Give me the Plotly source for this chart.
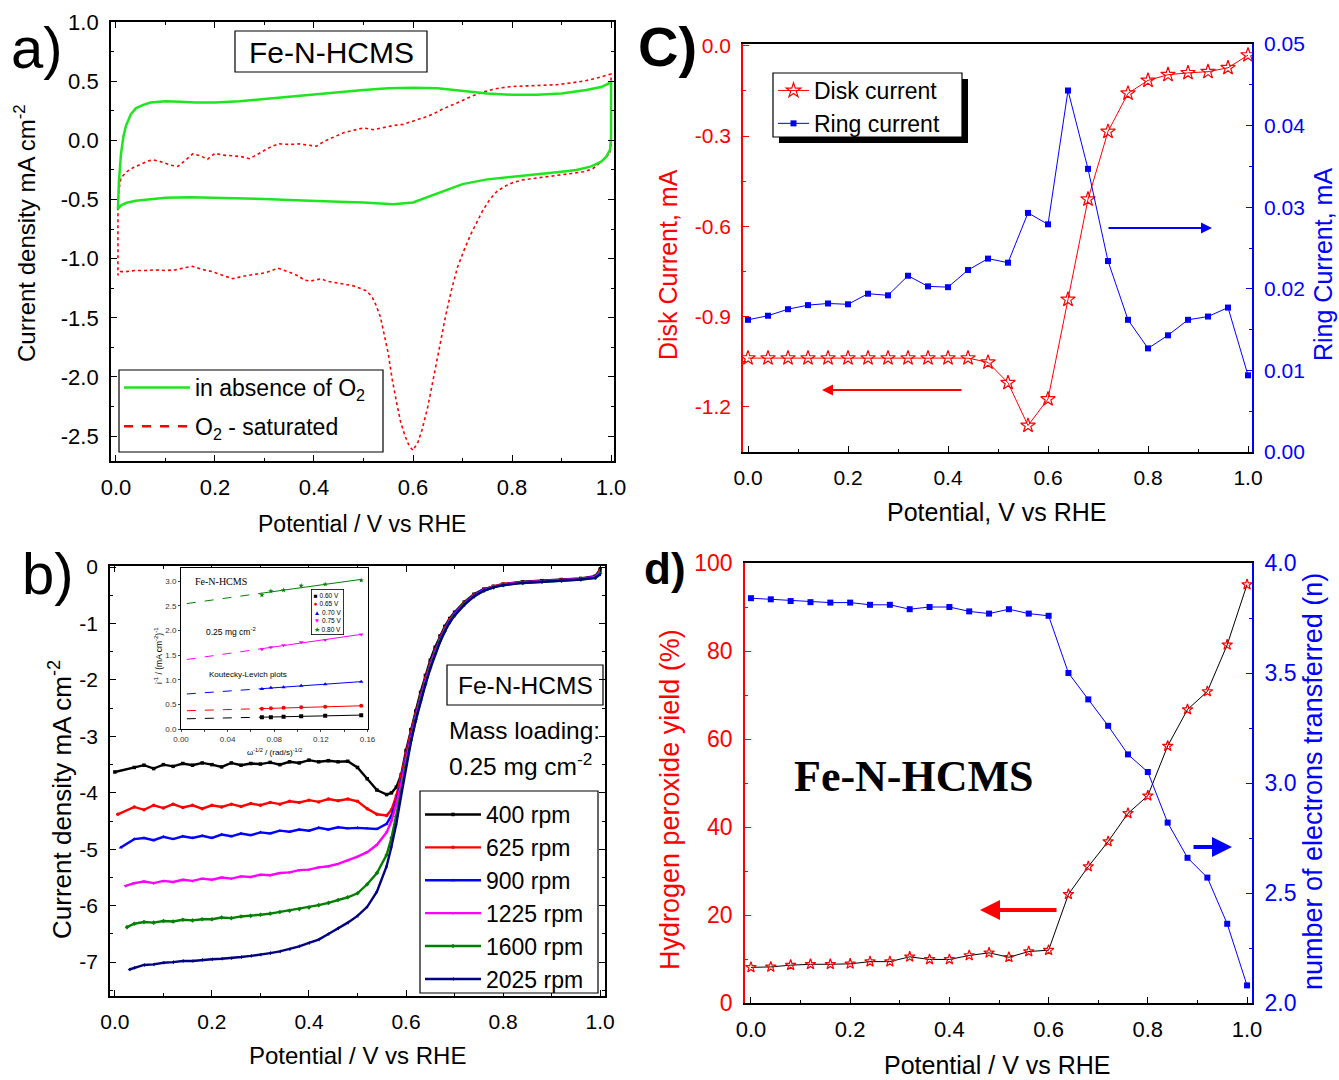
import numpy as np
import plotly.graph_objects as go

# ======================= DATA =======================
# (a) cyclic voltammograms, potential (V vs RHE) / current density (mA cm-2)
cv_n2_E = [0.004, 0.006, 0.01, 0.015, 0.02, 0.03, 0.04, 0.055, 0.07, 0.085, 0.1, 0.13, 0.16, 0.2, 0.25,
           0.3, 0.35, 0.4, 0.45, 0.5, 0.55, 0.6, 0.65, 0.7, 0.75, 0.8, 0.85, 0.9, 0.95, 0.98, 1.0,
           1.0, 0.998, 0.99, 0.98, 0.96, 0.93, 0.9, 0.85, 0.8, 0.75, 0.7, 0.65, 0.6, 0.56, 0.5, 0.45,
           0.4, 0.35, 0.3, 0.25, 0.2, 0.15, 0.1, 0.07, 0.04, 0.02, 0.01, 0.004]
cv_n2_j = [-0.58, -0.35, -0.12, 0.03, 0.12, 0.22, 0.27, 0.30, 0.32, 0.325, 0.33, 0.325, 0.32, 0.32, 0.33,
           0.35, 0.37, 0.385, 0.405, 0.425, 0.44, 0.445, 0.44, 0.42, 0.395, 0.385, 0.385, 0.395, 0.425, 0.45, 0.49,
           0.02, -0.08, -0.14, -0.18, -0.22, -0.25, -0.265, -0.285, -0.305, -0.33, -0.37, -0.45, -0.525, -0.54, -0.525, -0.52,
           -0.515, -0.505, -0.495, -0.49, -0.485, -0.48, -0.485, -0.495, -0.51, -0.53, -0.55, -0.58]

cv_o2_E = [0.004, 0.006, 0.01, 0.02, 0.035, 0.05, 0.065, 0.075, 0.09, 0.11,
           0.125, 0.14, 0.155, 0.17, 0.185, 0.2, 0.215, 0.235, 0.255, 0.27,
           0.285, 0.3, 0.315, 0.33, 0.35, 0.37, 0.39, 0.405, 0.42, 0.44,
           0.46, 0.48, 0.5, 0.52, 0.54, 0.56, 0.58, 0.6, 0.62, 0.64,
           0.66, 0.68, 0.7, 0.72, 0.74, 0.76, 0.78, 0.8, 0.83, 0.86,
           0.89, 0.92, 0.95, 0.97, 0.99, 1.0,
           1.0, 0.998, 0.993, 0.986, 0.975, 0.963, 0.945, 0.92, 0.9, 0.88,
           0.86, 0.84, 0.82, 0.8, 0.785, 0.77, 0.755, 0.74, 0.728, 0.716,
           0.703, 0.69, 0.678, 0.666, 0.654, 0.642, 0.63, 0.618, 0.61, 0.6,
           0.592, 0.584, 0.575, 0.567, 0.558, 0.55, 0.542, 0.534, 0.525, 0.517,
           0.505, 0.492, 0.48, 0.467, 0.45, 0.435, 0.426, 0.415, 0.405, 0.392,
           0.38, 0.37, 0.36, 0.345, 0.327, 0.315, 0.302, 0.285, 0.27, 0.255,
           0.236, 0.222, 0.211, 0.195, 0.178, 0.165, 0.154, 0.14, 0.12, 0.1,
           0.079, 0.06, 0.038, 0.02, 0.009, 0.004, 0.004]
cv_o2_j = [-0.55, -0.42, -0.32, -0.27, -0.23, -0.2, -0.175, -0.165, -0.18, -0.21,
           -0.22, -0.17, -0.115, -0.13, -0.16, -0.11, -0.125, -0.13, -0.14, -0.155,
           -0.12, -0.09, -0.05, -0.03, -0.035, -0.03, -0.04, -0.05, -0.01, 0.03,
           0.065, 0.085, 0.105, 0.09, 0.11, 0.125, 0.135, 0.16, 0.19, 0.22,
           0.265, 0.3, 0.34, 0.375, 0.405, 0.43, 0.445, 0.455, 0.46, 0.465,
           0.47, 0.485, 0.505, 0.525, 0.545, 0.56,
           -0.05, -0.1, -0.13, -0.16, -0.2, -0.24, -0.265, -0.28, -0.29, -0.3,
           -0.31, -0.32, -0.335, -0.36, -0.39, -0.43, -0.5, -0.6, -0.7, -0.8,
           -0.93, -1.07, -1.26, -1.48, -1.74, -2.0, -2.25, -2.45, -2.55, -2.62,
           -2.58, -2.5, -2.38, -2.22, -2.02, -1.8, -1.63, -1.49, -1.39, -1.32,
           -1.27, -1.25, -1.23, -1.22, -1.21, -1.2, -1.19, -1.17, -1.18, -1.19,
           -1.18, -1.15, -1.13, -1.11, -1.08, -1.1, -1.12, -1.13, -1.14, -1.15,
           -1.17, -1.15, -1.13, -1.11, -1.095, -1.08, -1.065, -1.075, -1.095, -1.1,
           -1.095, -1.1, -1.1, -1.11, -1.11, -1.14, -0.56]
cv_labels = ["in absence of O<sub>2</sub>", "O<sub>2</sub> - saturated"]
a_yticks = [-2.5, -2.0, -1.5, -1.0, -0.5, 0.0, 0.5, 1.0]
a_yticktext = ["-2.5", "-2.0", "-1.5", "-1.0", "-0.5", "0.0", "0.5", "1.0"]

# (b) LSV curves at different rotation rates
lsv_labels = ["400 rpm", "625 rpm", "900 rpm", "1225 rpm", "1600 rpm", "2025 rpm"]
lsv_start_E = [0.0, 0.006, 0.012, 0.022, 0.025, 0.03]
lsv_E = [0.04, 0.06, 0.08, 0.10, 0.12, 0.14, 0.16, 0.18, 0.20, 0.22, 0.24, 0.26, 0.28, 0.30, 0.32,
         0.34, 0.36, 0.38, 0.40, 0.42, 0.44, 0.46, 0.48, 0.50, 0.52, 0.54, 0.56,
         0.57, 0.58, 0.59, 0.60, 0.61, 0.62, 0.63, 0.64, 0.65, 0.66, 0.67, 0.68, 0.69, 0.70,
         0.72, 0.74, 0.76, 0.78, 0.80, 0.84, 0.88, 0.92, 0.96, 0.99, 1.00]
lsv_400 = [-3.63,
           -3.55, -3.51, -3.57, -3.50, -3.53, -3.48, -3.51, -3.47, -3.50, -3.54, -3.47, -3.51, -3.48, -3.49,
           -3.46, -3.50, -3.45, -3.47, -3.42, -3.45, -3.43, -3.45, -3.44,
           -3.55, -3.75, -3.95, -4.03,
           -4.00, -3.90, -3.68, -3.25, -2.88, -2.55, -2.22, -1.92, -1.65, -1.42, -1.22, -1.05, -0.91, -0.80,
           -0.62, -0.48, -0.39, -0.34, -0.30, -0.26, -0.24, -0.22, -0.20, -0.16, -0.04]
lsv_625 = [-4.38,
           -4.25, -4.30, -4.22, -4.27, -4.20, -4.26, -4.22, -4.28, -4.22, -4.25, -4.20, -4.24, -4.19, -4.22,
           -4.17, -4.20, -4.15, -4.17, -4.13, -4.16, -4.11, -4.14, -4.11,
           -4.15, -4.28, -4.38, -4.40,
           -4.30, -4.05, -3.70, -3.30, -2.93, -2.60, -2.27, -1.97, -1.70, -1.46, -1.25, -1.08, -0.93, -0.82,
           -0.63, -0.49, -0.40, -0.34, -0.30, -0.27, -0.25, -0.23, -0.21, -0.17, -0.06]
lsv_900 = [-4.97,
           -4.82, -4.80, -4.84, -4.78, -4.82, -4.77, -4.80, -4.76, -4.80, -4.74, -4.77, -4.72, -4.75, -4.70,
           -4.72, -4.67, -4.69, -4.65, -4.67, -4.62, -4.65, -4.61, -4.63,
           -4.62, -4.63, -4.64, -4.55,
           -4.40, -4.15, -3.80, -3.38, -2.98, -2.64, -2.30, -2.00, -1.73, -1.48, -1.27, -1.10, -0.95, -0.83,
           -0.64, -0.50, -0.40, -0.35, -0.31, -0.27, -0.25, -0.23, -0.21, -0.17, -0.08]
lsv_1225 = [-5.65,
            -5.60, -5.57, -5.60, -5.56, -5.58, -5.54, -5.56, -5.52, -5.54, -5.50, -5.52, -5.48, -5.49, -5.45,
            -5.46, -5.42, -5.41, -5.37, -5.36, -5.32, -5.30, -5.26, -5.20,
            -5.13, -5.05, -4.92, -4.70,
            -4.50, -4.20, -3.85, -3.42, -3.02, -2.67, -2.33, -2.03, -1.75, -1.50, -1.29, -1.11, -0.96, -0.84,
            -0.65, -0.51, -0.41, -0.35, -0.31, -0.27, -0.25, -0.23, -0.21, -0.18, -0.09]
lsv_1600 = [-6.38,
            -6.32, -6.29, -6.30, -6.27, -6.28, -6.25, -6.26, -6.24, -6.24, -6.21, -6.22, -6.19, -6.18, -6.16,
            -6.14, -6.11, -6.09, -6.06, -6.03, -5.99, -5.95, -5.90, -5.85,
            -5.78, -5.62, -5.42, -5.10,
            -4.80, -4.42, -3.98, -3.50, -3.07, -2.70, -2.36, -2.06, -1.78, -1.53, -1.31, -1.13, -0.97, -0.85,
            -0.66, -0.52, -0.42, -0.36, -0.32, -0.28, -0.26, -0.24, -0.22, -0.19, -0.11]
lsv_2025 = [-7.13,
            -7.10, -7.05, -7.04, -7.01, -7.00, -6.98, -6.98, -6.96, -6.95, -6.94, -6.93, -6.91, -6.89, -6.87,
            -6.84, -6.81, -6.77, -6.72, -6.66, -6.60, -6.50, -6.40, -6.30,
            -6.18, -6.02, -5.75, -5.30,
            -4.95, -4.55, -4.05, -3.55, -3.10, -2.72, -2.38, -2.08, -1.80, -1.55, -1.33, -1.14, -0.98, -0.86,
            -0.67, -0.52, -0.42, -0.36, -0.32, -0.28, -0.26, -0.24, -0.22, -0.19, -0.13]
b_yticks = [-7, -6, -5, -4, -3, -2, -1, 0]
b_yticktext = ["-7", "-6", "-5", "-4", "-3", "-2", "-1", "0"]

# (b, inset) Koutecky-Levich plots
kl_x = [0.0694, 0.0771, 0.0880, 0.1031, 0.1237, 0.1546]
kl_060 = [0.24, 0.24, 0.25, 0.26, 0.27, 0.28]
kl_065 = [0.41, 0.42, 0.43, 0.44, 0.45, 0.47]
kl_070 = [0.81, 0.84, 0.85, 0.88, 0.91, 0.96]
kl_075 = [1.62, 1.66, 1.70, 1.76, 1.81, 1.92]
kl_080 = [2.72, 2.80, 2.82, 2.91, 2.94, 3.02]
kl_labels = ["0.60 V", "0.65 V", "0.70 V", "0.75 V", "0.80 V"]
kl_extrap_start = 0.005

# (c) RRDE disk / ring currents
rrde_E = [0.00, 0.04, 0.08, 0.12, 0.16, 0.20, 0.24, 0.28, 0.32, 0.36, 0.40, 0.44, 0.48,
          0.52, 0.56, 0.60, 0.64, 0.68, 0.72, 0.76, 0.80, 0.84, 0.88, 0.92, 0.96, 1.00]
disk_I = [-1.038, -1.038, -1.038, -1.038, -1.038, -1.038, -1.038, -1.038, -1.038, -1.038, -1.038, -1.038, -1.052,
          -1.12, -1.262, -1.174, -0.843, -0.51, -0.285, -0.158, -0.115, -0.096, -0.09, -0.086, -0.073, -0.031]
ring_I = [0.0162, 0.0167, 0.0175, 0.0180, 0.0182, 0.0181, 0.0194, 0.0192, 0.0216, 0.0203, 0.0202, 0.0223, 0.0237,
          0.0232, 0.0293, 0.0279, 0.0443, 0.0347, 0.0234, 0.0162, 0.0127, 0.0143, 0.0162, 0.0166, 0.0177, 0.0094]
c_yticks = [-1.2, -0.9, -0.6, -0.3, 0.0]
c_yticktext = ["-1.2", "-0.9", "-0.6", "-0.3", "0.0"]
rrde_labels = ["Disk current", "Ring current"]

# (d) H2O2 yield and electron transfer number
h2o2_yield = [8.1, 8.2, 8.6, 8.8, 8.8, 8.9, 9.4, 9.4, 10.5, 9.9, 9.9, 10.8, 11.4,
              10.4, 11.7, 12.0, 24.7, 31.0, 36.7, 43.1, 47.1, 58.4, 66.7, 70.8, 81.4, 95.1]
n_electrons = [3.84, 3.835, 3.827, 3.822, 3.82, 3.82, 3.81, 3.81, 3.79, 3.80, 3.80, 3.78, 3.77,
               3.79, 3.77, 3.76, 3.50, 3.38, 3.26, 3.13, 3.05, 2.82, 2.66, 2.57, 2.36, 2.08]

# ======================= STYLE HELPERS =======================
W, H = 1339, 1080
FONT = "Liberation Sans, Arial, sans-serif"
SERIF = "Liberation Serif, Times New Roman, serif"


def px(x):
    return x / W


def py(y):
    return 1 - y / H


fig = go.Figure()

# ---------------- (a) ----------------
fig.add_trace(go.Scatter(x=cv_o2_E, y=cv_o2_j, mode="lines", xaxis="x", yaxis="y",
                         line=dict(color="#FF0000", width=1.6, dash="dot"), showlegend=False))
fig.add_trace(go.Scatter(x=cv_n2_E, y=cv_n2_j, mode="lines", xaxis="x", yaxis="y",
                         line=dict(color="#1EE61E", width=2.5), name=cv_labels[0],
                         legend="legend", legendrank=1, legendgroup="a1"))
fig.add_trace(go.Scatter(x=[None], y=[None], mode="lines", xaxis="x", yaxis="y",
                         line=dict(color="#FF0000", width=2.5, dash="dash"), name=cv_labels[1],
                         legend="legend", legendrank=2, legendgroup="a2"))

# ---------------- (b) ----------------
lsv_series = [lsv_400, lsv_625, lsv_900, lsv_1225, lsv_1600, lsv_2025]
lsv_colors = ["#000000", "#FF0000", "#0000FF", "#FF00FF", "#008000", "#000080"]
lsv_symbols = ["square", "circle", "triangle-up", "triangle-down", "diamond", "triangle-left"]
for i, ys in enumerate(lsv_series):
    fig.add_trace(go.Scatter(x=[lsv_start_E[i]] + lsv_E, y=ys, mode="lines+markers",
                             xaxis="x2", yaxis="y2", name=lsv_labels[i], legend="legend2",
                             line=dict(color=lsv_colors[i], width=2.4),
                             marker=dict(symbol=lsv_symbols[i], size=3.5, color=lsv_colors[i])))

# ---------------- (b) inset ----------------
kl_series = [kl_060, kl_065, kl_070, kl_075, kl_080]
kl_colors = ["#000000", "#FF0000", "#0000FF", "#FF00FF", "#008000"]
kl_symbols = ["square", "circle", "triangle-up", "triangle-down", "star"]
for i, ys in enumerate(kl_series):
    slope, icpt = np.polyfit(kl_x, ys, 1)
    x_fit = [kl_x[0], kl_x[-1]]
    x_ext = [kl_extrap_start, kl_x[0]]
    fig.add_trace(go.Scatter(x=x_ext, y=[icpt + slope * v for v in x_ext], mode="lines",
                             xaxis="x5", yaxis="y7", showlegend=False,
                             line=dict(color=kl_colors[i], width=1, dash="dash")))
    fig.add_trace(go.Scatter(x=x_fit, y=[icpt + slope * v for v in x_fit], mode="lines",
                             xaxis="x5", yaxis="y7", showlegend=False,
                             line=dict(color=kl_colors[i], width=1)))
    fig.add_trace(go.Scatter(x=kl_x, y=ys, mode="markers", xaxis="x5", yaxis="y7",
                             showlegend=False,
                             marker=dict(symbol=kl_symbols[i], size=4, color=kl_colors[i])))

# ---------------- (c) ----------------
fig.add_trace(go.Scatter(x=rrde_E, y=disk_I, mode="lines+markers", xaxis="x3", yaxis="y3",
                         name=rrde_labels[0], legend="legend3",
                         line=dict(color="#FF0000", width=1),
                         marker=dict(symbol="star-open", size=11, color="#FF0000",
                                     line=dict(width=1.2, color="#FF0000"))))
fig.add_trace(go.Scatter(x=rrde_E, y=ring_I, mode="lines+markers", xaxis="x3", yaxis="y4",
                         name=rrde_labels[1], legend="legend3",
                         line=dict(color="#0000FF", width=1),
                         marker=dict(symbol="square", size=6, color="#0000FF")))

# ---------------- (d) ----------------
fig.add_trace(go.Scatter(x=rrde_E, y=h2o2_yield, mode="lines+markers", xaxis="x4", yaxis="y5",
                         showlegend=False, line=dict(color="#000000", width=1),
                         marker=dict(symbol="star-open", size=8, color="#FF0000",
                                     line=dict(width=1.2, color="#FF0000"))))
fig.add_trace(go.Scatter(x=rrde_E, y=n_electrons, mode="lines+markers", xaxis="x4", yaxis="y6",
                         showlegend=False, line=dict(color="#0000FF", width=1),
                         marker=dict(symbol="square", size=6, color="#0000FF")))


# ======================= AXES =======================
def xax(domain, anchor, rng, size, minor=0.1, color="black"):
    return dict(domain=domain, anchor=anchor, range=rng, tickmode="linear", tick0=0, dtick=0.2,
                tickformat=".1f", ticks="inside", ticklen=6, tickwidth=1.3, tickcolor=color,
                minor=dict(ticks="inside", ticklen=3, tickmode="linear", tick0=0, dtick=minor,
                           tickcolor=color),
                showline=True, linecolor=color, linewidth=1.8, showgrid=False, zeroline=False,
                tickfont=dict(family=FONT, size=size, color="black"), automargin=False,
                ticklabelstandoff=6)


def yax_common(domain, anchor, rng, size, color="black", fontcolor="black"):
    return dict(domain=domain, anchor=anchor, range=rng, ticks="inside", ticklen=6, tickwidth=1.3,
                tickcolor=color, showline=True, linecolor=color, linewidth=1.8, showgrid=False,
                zeroline=False, tickfont=dict(family=FONT, size=size, color=fontcolor),
                automargin=False, ticklabelstandoff=6)


layout_axes = {}
# (a)
layout_axes["xaxis"] = xax([px(111), px(614)], "y", [-0.01, 1.006], 22)
layout_axes["xaxis"]["mirror"] = "ticks"
ya = yax_common([py(461), py(22)], "x", [-2.71, 1.0], 22)
ya.update(tickmode="array", tickvals=a_yticks, ticktext=a_yticktext, mirror="ticks",
          minor=dict(ticks="inside", ticklen=3, tickmode="linear", tick0=0, dtick=0.25))
layout_axes["yaxis"] = ya
# (b)
layout_axes["xaxis2"] = xax([px(110), px(605)], "y2", [-0.01, 1.01], 21)
layout_axes["xaxis2"]["mirror"] = "ticks"
yb = yax_common([py(996), py(566)], "x2", [-7.6, 0.02], 21)
yb.update(tickmode="array", tickvals=b_yticks, ticktext=b_yticktext, mirror="ticks",
          minor=dict(ticks="inside", ticklen=3, tickmode="linear", tick0=0, dtick=0.5))
layout_axes["yaxis2"] = yb
# (c)
layout_axes["xaxis3"] = xax([px(743), px(1252)], "y3", [-0.01, 1.008], 21)
layout_axes["xaxis3"]["mirror"] = True
yc = yax_common([py(452), py(44)], "x3", [-1.35, 0.006], 21, color="#FF0000", fontcolor="#FF0000")
yc.update(tickmode="array", tickvals=c_yticks, ticktext=c_yticktext,
          minor=dict(ticks="inside", ticklen=3, tickmode="linear", tick0=0, dtick=0.15,
                     tickcolor="#FF0000"))
layout_axes["yaxis3"] = yc
yc2 = yax_common([py(452), py(44)], "x3", [0, 0.05], 21, color="#0000FF", fontcolor="#0000FF")
yc2.update(overlaying="y3", side="right", tickmode="linear", tick0=0, dtick=0.01, tickformat=".2f",
           minor=dict(ticks="inside", ticklen=3, tickmode="linear", tick0=0, dtick=0.005,
                      tickcolor="#0000FF"))
layout_axes["yaxis4"] = yc2
# (d)
layout_axes["xaxis4"] = xax([px(745), px(1252)], "y5", [-0.012, 1.01], 22)
layout_axes["xaxis4"]["mirror"] = True
yd = yax_common([py(1003), py(563)], "x4", [0, 100], 23, color="#FF0000", fontcolor="#FF0000")
yd.update(tickmode="linear", tick0=0, dtick=20,
          minor=dict(ticks="inside", ticklen=3, tickmode="linear", tick0=0, dtick=10,
                     tickcolor="#FF0000"))
layout_axes["yaxis5"] = yd
yd2 = yax_common([py(1003), py(563)], "x4", [2, 4], 23, color="#0000FF", fontcolor="#0000FF")
yd2.update(overlaying="y5", side="right", tickmode="linear", tick0=2, dtick=0.5, tickformat=".1f",
           minor=dict(ticks="inside", ticklen=3, tickmode="linear", tick0=2, dtick=0.25,
                      tickcolor="#0000FF"))
layout_axes["yaxis6"] = yd2
# inset
layout_axes["xaxis5"] = dict(domain=[px(181), px(367.5)], anchor="y7", range=[0, 0.16],
                             tickmode="linear", tick0=0, dtick=0.04, tickformat=".2f",
                             ticks="outside", ticklen=2, tickwidth=0.8, showline=True,
                             linecolor="black", linewidth=1, mirror=True, showgrid=False,
                             zeroline=False, automargin=False,
                             minor=dict(ticks="outside", ticklen=1.5, tickmode="linear", tick0=0, dtick=0.02),
                             tickfont=dict(family=FONT, size=8, color="#333333"))
layout_axes["yaxis7"] = dict(domain=[py(729), py(568)], anchor="x5", range=[0, 3.27],
                             tickmode="linear", tick0=0, dtick=0.5, tickformat=".1f",
                             ticks="outside", ticklen=2, tickwidth=0.8, showline=True,
                             linecolor="black", linewidth=1, mirror=True, showgrid=False,
                             zeroline=False, automargin=False,
                             tickfont=dict(family=FONT, size=8, color="#333333"))

# ======================= ANNOTATIONS =======================
ann = []


def text(x, y, s, size, angle=0, color="black", family=FONT, xanchor="center", yanchor="middle",
         **kw):
    d = dict(x=px(x), y=py(y), xref="paper", yref="paper", text=s, showarrow=False,
             textangle=angle, font=dict(family=family, size=size, color=color),
             xanchor=xanchor, yanchor=yanchor)
    d.update(kw)
    ann.append(d)


# panel labels
text(37, 48, "a)", 58)
text(48, 573, "b)", 58)
text(667, 46, "<b>C)</b>", 56)
text(665, 568, "<b>d)</b>", 44)

# axis titles
text(362, 524, "Potential / V vs RHE", 23)
text(25, 233, "Current density mA cm<sup>-2</sup>", 24, angle=-90)
text(357, 1055, "Potential / V vs RHE", 24)
text(60, 800, "Current density mA cm<sup>-2</sup>", 26, angle=-90)
text(997, 512, "Potential, V vs RHE", 25)
text(668, 265, "Disk Current, mA", 25, angle=-90, color="#FF0000")
text(1323, 265, "Ring Current, mA", 25, angle=-90, color="#0000FF")
text(997, 1065, "Potential / V vs RHE", 25)
text(670, 800, "Hydrogen peroxide yield (%)", 27, angle=-90, color="#FF0000")
text(1313, 782, "number of electrons transferred (n)", 27, angle=-90, color="#0000FF")

# panel texts
text(331, 52, "Fe-N-HCMS", 30)
text(525, 685, "Fe-N-HCMS", 24.5)
text(447, 730, "Mass loading:", 24.5, xanchor="left")
text(447, 764, "0.25 mg cm<sup>-2</sup>", 24.5, xanchor="left")
text(914, 776, "<b>Fe-N-HCMS</b>", 44, family=SERIF)

# inset texts
text(193, 581, "Fe-N-HCMS", 10, family=SERIF, xanchor="left")
text(204, 631, "0.25 mg cm<sup>-2</sup>", 8.5, xanchor="left")
text(207, 674, "Koutecky-Levich plots", 8, xanchor="left")
text(158, 656, "i<sup>-1</sup> / (mA cm<sup>-2</sup>)<sup>-1</sup>", 8.5, angle=-90)
text(274, 752, "\u03c9<sup>-1/2</sup> / (rad/s)<sup>-1/2</sup>", 8)
kl_glyphs = ["\u25a0", "\u25cf", "\u25b2", "\u25bc", "\u2605"]
legend_lines = ["<span style='color:%s'>%s</span> %s" % (kl_colors[i], kl_glyphs[i], kl_labels[i])
                for i in range(len(kl_labels))]
text(311, 589, "<br>".join(legend_lines), 6.5, xanchor="left", yanchor="top", align="left",
     bordercolor="black", borderwidth=0.8, borderpad=2, bgcolor="white")


# arrows
def arrow(hx, hy, dx, color, width):
    ann.append(dict(x=px(hx), y=py(hy), xref="paper", yref="paper", ax=dx, ay=0, text="",
                    showarrow=True, arrowhead=2, arrowsize=1.0, arrowwidth=width, arrowcolor=color))


arrow(822, 390, 141, "#FF0000", 2.2)
arrow(1212, 228, -105, "#0000FF", 2.2)
arrow(980, 910, 78, "#FF0000", 4)
arrow(1232, 847, -40, "#0000FF", 4)


# boxes (legend frames drawn as shapes so that their size matches exactly)
def rect(x0, y0, x1, y1, fill="white", lw=1.2):
    return dict(type="rect", xref="paper", yref="paper", x0=px(x0), x1=px(x1), y0=py(y1), y1=py(y0),
                line=dict(color="black", width=lw), fillcolor=fill, layer="above")


shapes = [
    rect(235, 31, 427, 72, fill="rgba(0,0,0,0)"),
    rect(447, 665, 603, 705, fill="rgba(0,0,0,0)"),
    rect(119, 370, 383, 452),
    rect(420, 791, 598, 993),
    rect(779, 79, 968, 143, fill="black", lw=0),
    rect(773, 73, 962, 137),
]

legend_common = dict(xanchor="left", yanchor="top", bgcolor="rgba(0,0,0,0)",
                     borderwidth=0)

fig.update_layout(
    width=W, height=H, autosize=False,
    margin=dict(l=0, r=0, t=0, b=0),
    paper_bgcolor="white", plot_bgcolor="white",
    template="none",
    font=dict(family=FONT, color="black"),
    showlegend=True,
    legend=dict(x=px(119), y=py(366), font=dict(family=FONT, size=23), itemwidth=66,
                tracegroupgap=6, **legend_common),
    legend2=dict(x=px(420), y=py(793), font=dict(family=FONT, size=23), itemwidth=56,
                 tracegroupgap=0, **legend_common),
    legend3=dict(x=px(773), y=py(69), font=dict(family=FONT, size=23), itemwidth=31,
                 tracegroupgap=0, **legend_common),
    annotations=ann,
    shapes=shapes,
    **layout_axes,
)

fig.write_html("out.html",
               config={"displayModeBar": False},
               post_script="document.body.style.margin='0px';document.body.style.overflow='hidden';")
